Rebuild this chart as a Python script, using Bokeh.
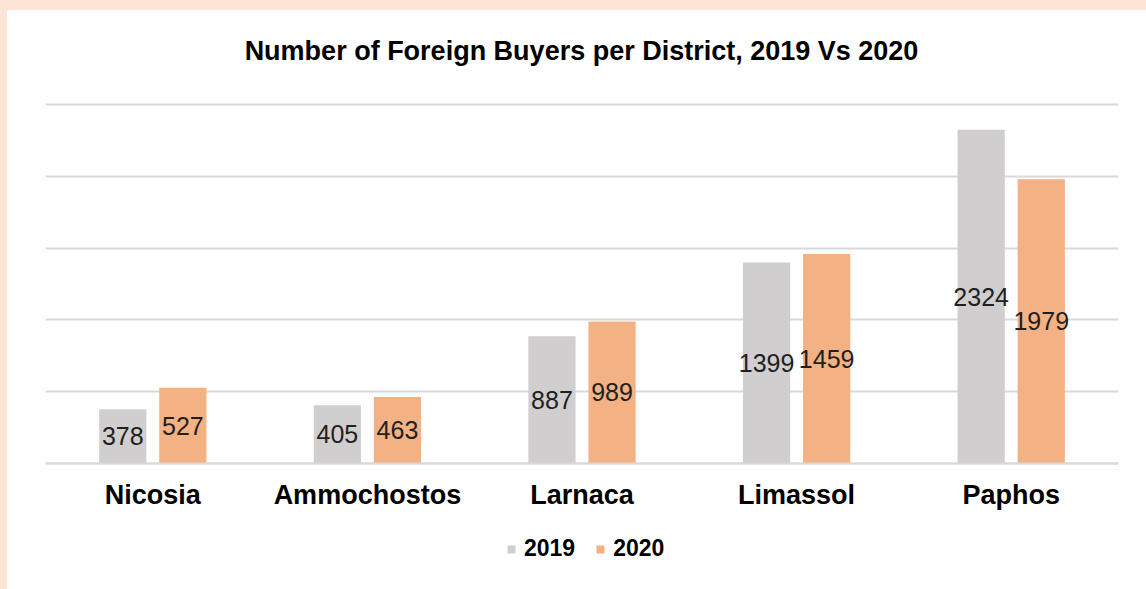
from bokeh.plotting import figure
from bokeh.models import ColumnDataSource, FactorRange, Range1d, FixedTicker, Legend, LegendItem, Label
from bokeh.transform import dodge
from bokeh.core.properties import value
from bokeh.embed import file_html
from bokeh.resources import INLINE

districts = ["Nicosia", "Ammochostos", "Larnaca", "Limassol", "Paphos"]
buyers_2019 = [378, 405, 887, 1399, 2324]
buyers_2020 = [527, 463, 989, 1459, 1979]
series_labels = ["2019", "2020"]
grid_ticks = [0, 500, 1000, 1500, 2000, 2500]
title_text = "Number of Foreign Buyers per District, 2019 Vs 2020"

FONT = "Liberation Sans"
GRAY = "#D0CECE"
ORANGE = "#F4B183"

src = ColumnDataSource(dict(
    district=districts,
    y2019=buyers_2019,
    y2020=buyers_2020,
    m2019=[v / 2 for v in buyers_2019],
    m2020=[v / 2 for v in buyers_2020],
    t2019=[str(v) for v in buyers_2019],
    t2020=[str(v) for v in buyers_2020],
))

p = figure(
    width=1139, height=579,
    frame_width=1073, frame_height=579,
    x_range=FactorRange(*districts, range_padding=0),
    y_range=Range1d(-877.4, 3154.6),
    output_backend="svg", toolbar_location=None,
    min_border_left=38, min_border_right=28, min_border_top=0, min_border_bottom=0,
    margin=(10, 0, 0, 7),
)
p.outline_line_color = None
p.outline_line_alpha = 0
p.background_fill_color = "white"
p.border_fill_color = "white"

p.add_layout(Label(x=536, y=539, x_units="screen", y_units="screen", text=title_text,
                   text_align="center", text_baseline="middle", text_font=FONT,
                   text_font_size="27px", text_font_style="bold", text_color="black"))

r19 = p.vbar(x=dodge("district", -0.14, range=p.x_range), top="y2019", width=0.22,
             source=src, fill_color=GRAY, line_color=None)
r20 = p.vbar(x=dodge("district", 0.14, range=p.x_range), top="y2020", width=0.22,
             source=src, fill_color=ORANGE, line_color=None)

for off, ycol, tcol in [(-0.14, "m2019", "t2019"), (0.14, "m2020", "t2020")]:
    p.text(x=dodge("district", off, range=p.x_range), y=ycol, text=tcol, source=src,
           text_font=value(FONT), text_font_size="25px", text_color="#1F1F1F",
           text_align="center", text_baseline="middle")

p.yaxis.visible = False
p.ygrid.ticker = FixedTicker(ticks=grid_ticks)
p.ygrid.grid_line_color = "#D9D9D9"
p.ygrid.grid_line_width = 2
p.xgrid.visible = False

xa = p.xaxis[0]
xa.fixed_location = 0
xa.axis_line_color = "#D9D9D9"
xa.axis_line_width = 2
xa.major_tick_line_color = None
xa.minor_tick_line_color = None
xa.major_tick_out = 0
xa.major_tick_in = 0
xa.major_label_standoff = 16
xa.major_label_text_font = FONT
xa.major_label_text_font_size = "27px"
xa.major_label_text_font_style = "bold"
xa.major_label_text_color = "black"

legend = Legend(items=[LegendItem(label=series_labels[0], renderers=[r19]),
                       LegendItem(label=series_labels[1], renderers=[r20])],
                orientation="horizontal", location=(461, 27))
legend.label_text_font = FONT
legend.label_text_font_size = "23px"
legend.label_text_font_style = "bold"
legend.label_text_color = "black"
legend.glyph_width = 10
legend.glyph_height = 10
legend.label_standoff = 8
legend.spacing = 20
legend.padding = 0
legend.margin = 0
legend.border_line_color = None
legend.background_fill_alpha = 0
p.add_layout(legend, "center")

html = file_html(p, INLINE)
css = ("<style>html, body {background: linear-gradient(to right, #FCE4D6 7px, transparent 7px), "
       "linear-gradient(to bottom, #FCE4D6 10px, #ffffff 10px) !important; overflow: hidden;}</style></head>")
html = html.replace("</head>", css, 1)
open("out.html", "w").write(html)
